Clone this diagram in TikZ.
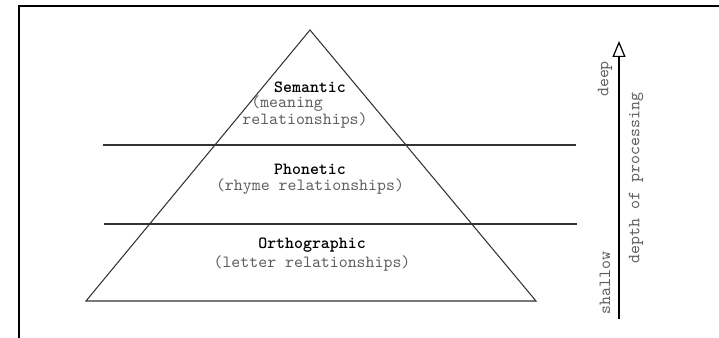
\documentclass[tikz,border=0pt]{standalone}
\usepackage{xcolor}
\usepackage{tikz}
\usetikzlibrary{arrows.meta}
\definecolor{ink}{HTML}{000000}
\definecolor{muted}{HTML}{5E5E5E}
\definecolor{rule}{HTML}{333333}
\tikzset{
  frameline/.style={draw=ink, line width=1.1pt},
  line/.style={draw=rule, line width=0.6pt},
  title/.style={text=ink, font=\ttfamily\fontsize{9.7}{11}\selectfont\bfseries, inner sep=0pt},
  sub/.style={text=muted, font=\ttfamily\fontsize{9.7}{8}\selectfont, inner sep=0pt},
  side/.style={text=muted, font=\ttfamily\fontsize{9.7}{11}\selectfont, inner sep=0pt, rotate=90}
}
\begin{document}
\begin{tikzpicture}
  \useasboundingbox (0,0) rectangle (14.38,6.76);
  % frame
  \draw[frameline] (14.38,6.64) -- (0.38,6.64) -- (0.38,0);

  % pyramid
  \coordinate (apex) at (6.2,6.16);
  \coordinate (bl) at (1.72,0.74);
  \coordinate (br) at (10.72,0.74);
  \draw[line] (apex) -- (br) -- (bl) -- cycle;

  \coordinate (u1) at (2.06,3.86);
  \coordinate (u2) at (11.52,3.86);
  \coordinate (l1) at (2.08,2.28);
  \coordinate (l2) at (11.54,2.28);
  \draw[line] (u1) -- (u2);
  \draw[line] (l1) -- (l2);

  % levels
  \node[title] (sem) at (6.2,5.02) {Semantic};
  \node[sub, anchor=west, align=left] (semA) at (4.84,4.52) {\phantom{r}(meaning\\relationships)};
  \node[title] (pho) at (6.2,3.38) {Phonetic};
  \node[sub] (phoA) at (6.2,3.02) {(rhyme relationships)};
  \node[title] (ort) at (6.24,1.86) {Orthographic};
  \node[sub] (ortA) at (6.24,1.50) {(letter relationships)};

  % depth axis
  \coordinate (lo) at (12.38,0.38);
  \coordinate (hi) at (12.38,5.94);
  \draw[draw=ink, line width=0.7pt, -{Triangle[open, length=0.32cm, width=0.26cm]}] (lo) -- (hi);
  \node[side] (deep) at (12.1,5.18) {deep};
  \node[side] (shal) at (12.1,1.1) {shallow};
  \node[side] (dop) at (12.72,3.2) {depth of processing};
\end{tikzpicture}
\end{document}
